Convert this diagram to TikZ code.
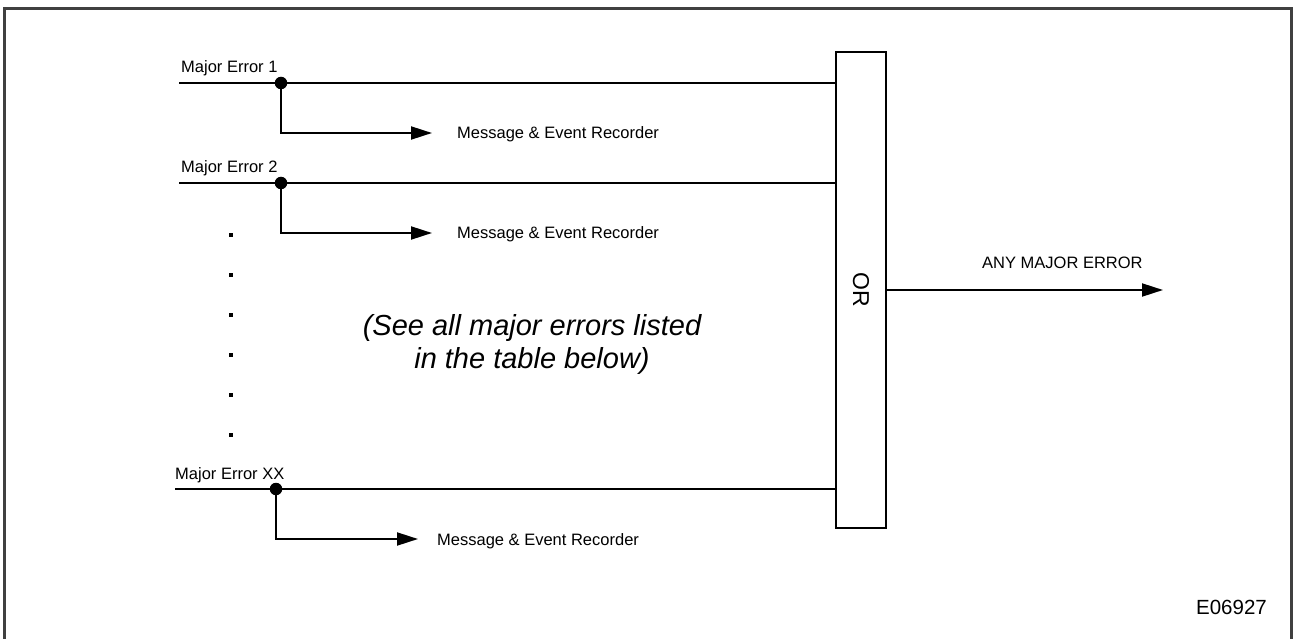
\documentclass[tikz,border=0pt]{standalone}
\usepackage{fontspec}
\setmainfont{Liberation Sans}
\usepackage{tikz}
\usetikzlibrary{arrows.meta, positioning, calc}
\definecolor{framegray}{RGB}{64, 64, 64}

\begin{document}
\begin{tikzpicture}[
    x=1pt, y=-1pt,
    wire/.style={draw=black, line width=2pt},
    sigline/.style={wire, -{Triangle[length=21pt, width=13pt]}},
    junction/.style={circle, fill=black, inner sep=0pt, minimum size=12.5pt},
    gate/.style={rectangle, draw=black, line width=2pt, minimum width=50pt, minimum height=476pt, inner sep=0pt},
    sig/.style={font=\fontsize{16.5}{19}\selectfont, inner sep=0pt},
    vdot/.style={rectangle, fill=black, inner sep=0pt, minimum size=3.5pt},
    note/.style={font=\fontsize{29}{33}\selectfont\itshape, align=center, inner sep=0pt},
    frame/.style={draw=framegray, line width=2.5pt}
]

\useasboundingbox (0,0) rectangle (1293,639);
\draw[frame] (4.5,660) |- (1291.5,8.5) -- (1291.5,660);

\node[gate] (or) at (861,290) {};
\node[inner sep=0pt, rotate=-90, font=\fontsize{23}{26}\selectfont] (orlabel) at (or.center) {OR};

\coordinate (outend) at (1163,290);
\draw[sigline] (or.east) -- (outend);
\node[sig, anchor=base west] (anyerr) at (982,268) {ANY MAJOR ERROR};

\coordinate (in1) at (179,83);
\node[junction] (j1) at (281,83) {};
\node[sig, anchor=base west] (err1) at (181,73) {Major Error 1};
\coordinate (t1) at (432,133);
\node[sig, anchor=base west] (msg1) at (457,139) {Message \& Event Recorder};
\draw[wire] (in1) -- (j1) -- (j1 -| or.west);
\draw[sigline] (j1) |- (t1);

\coordinate (in2) at (179,183);
\node[junction] (j2) at (281,183) {};
\node[sig, anchor=base west] (err2) at (181,173) {Major Error 2};
\coordinate (t2) at (432,233);
\node[sig, anchor=base west] (msg2) at (457,239) {Message \& Event Recorder};
\draw[wire] (in2) -- (j2) -- (j2 -| or.west);
\draw[sigline] (j2) |- (t2);

\foreach \y [count=\i] in {235,275,315,355,395,435}
    \node[vdot] (gap\i) at (231,\y) {};

\node[note] (seeall) at (532,344) {(See all major errors listed\\in the table below)};

\coordinate (inxx) at (175,489);
\node[junction] (jxx) at (276,489) {};
\node[sig, anchor=base west] (errxx) at (175,479) {Major Error XX};
\coordinate (txx) at (418,539);
\node[sig, anchor=base west] (msgxx) at (437,545) {Message \& Event Recorder};
\draw[wire] (inxx) -- (jxx) -- (jxx -| or.west);
\draw[sigline] (jxx) |- (txx);

\node[inner sep=0pt, anchor=base east, font=\fontsize{20.5}{24}\selectfont] (code) at (1267,614) {E06927};

\end{tikzpicture}
\end{document}
